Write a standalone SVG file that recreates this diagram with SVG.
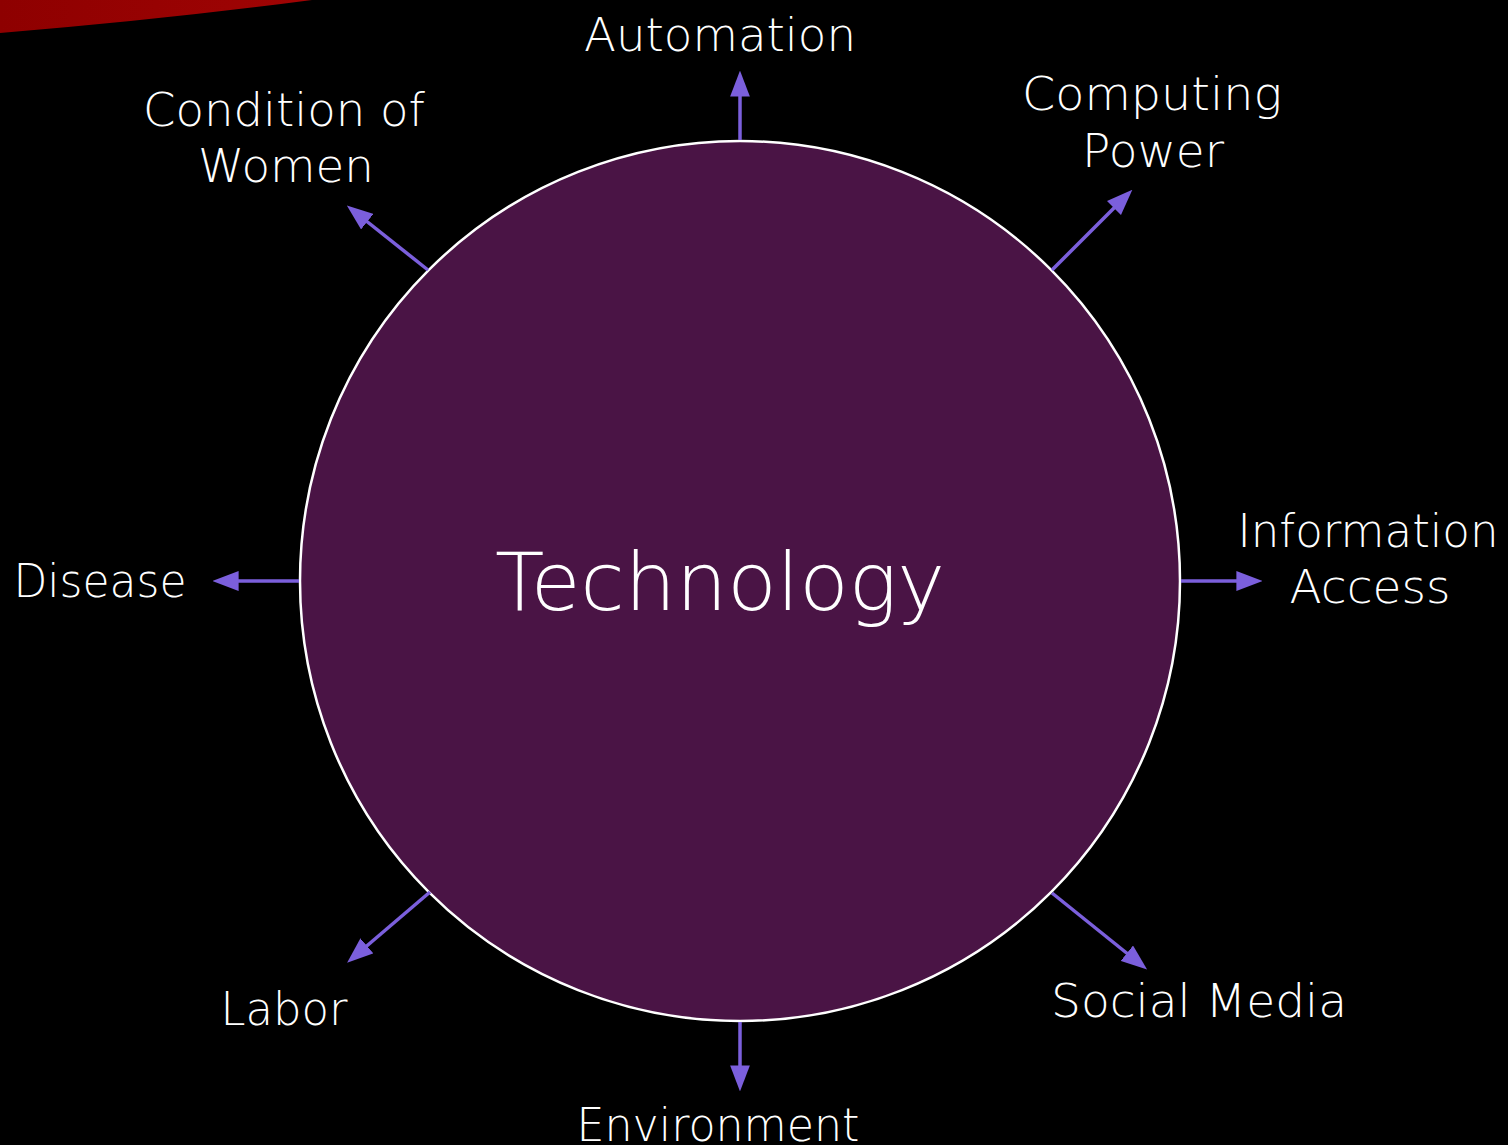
<svg xmlns="http://www.w3.org/2000/svg" width="1508" height="1145" viewBox="0 0 1508 1145">
  <defs>
    <linearGradient id="swoosh" x1="0" y1="0" x2="1" y2="0">
      <stop offset="0" stop-color="#8e0000"/>
      <stop offset="1" stop-color="#a00404"/>
    </linearGradient>
    <marker id="ah" markerUnits="userSpaceOnUse" markerWidth="26" markerHeight="20" viewBox="0 0 25 19" refX="15" refY="9.5" orient="auto">
      <path d="M0,0 L25,9.5 L0,19 Z" fill="#7b5fdc"/>
    </marker>
  </defs>
  <style>
    .lbl { font-family: "DejaVu Sans", "Liberation Sans", sans-serif; font-weight: 300; font-size: 46px; fill: #ffffff; text-anchor: middle; }
    .big { font-family: "DejaVu Sans", "Liberation Sans", sans-serif; font-weight: 300; font-size: 80px; fill: #ffffff; text-anchor: middle; }
    .conn { stroke: #7b5fdc; stroke-width: 3.5; fill: none; marker-end: url(#ah); }
  </style>
  <rect x="0" y="0" width="1508" height="1145" fill="#000000"/>
  <path d="M0,0 L312,0 Q160,20 0,33 Z" fill="url(#swoosh)"/>

  <g id="technology">
    <circle cx="740" cy="581" r="440" fill="#4a1445" stroke="#ffffff" stroke-width="2.5"/>
    <text class="big" x="720" y="610" textLength="450" lengthAdjust="spacingAndGlyphs">Technology</text>
  </g>

  <g id="connectors">
    <line class="conn" x1="740" y1="140" x2="740" y2="81"/>
    <line class="conn" x1="1052" y1="270" x2="1125" y2="197"/>
    <line class="conn" x1="1181" y1="581" x2="1252" y2="581"/>
    <line class="conn" x1="1052" y1="893" x2="1139" y2="963"/>
    <line class="conn" x1="740" y1="1022" x2="740" y2="1081"/>
    <line class="conn" x1="430" y1="892" x2="355" y2="956"/>
    <line class="conn" x1="299" y1="581" x2="223" y2="581"/>
    <line class="conn" x1="428" y1="270" x2="355" y2="212"/>
  </g>

  <g id="automation">
    <text class="lbl" x="720" y="51" textLength="272" lengthAdjust="spacingAndGlyphs">Automation</text>
  </g>
  <g id="computing-power">
    <text class="lbl" x="1152" y="110" textLength="260" lengthAdjust="spacingAndGlyphs">Computing</text>
    <text class="lbl" x="1153" y="167" textLength="142" lengthAdjust="spacingAndGlyphs">Power</text>
  </g>
  <g id="information-access">
    <text class="lbl" x="1368" y="547" textLength="261" lengthAdjust="spacingAndGlyphs">Information</text>
    <text class="lbl" x="1370" y="603" textLength="161" lengthAdjust="spacingAndGlyphs">Access</text>
  </g>
  <g id="social-media">
    <text class="lbl" x="1199" y="1017" textLength="296" lengthAdjust="spacingAndGlyphs">Social Media</text>
  </g>
  <g id="environment">
    <text class="lbl" x="718" y="1141" textLength="283" lengthAdjust="spacingAndGlyphs">Environment</text>
  </g>
  <g id="labor">
    <text class="lbl" x="284" y="1025" textLength="127" lengthAdjust="spacingAndGlyphs">Labor</text>
  </g>
  <g id="disease">
    <text class="lbl" x="100" y="597" textLength="173" lengthAdjust="spacingAndGlyphs">Disease</text>
  </g>
  <g id="condition-of-women">
    <text class="lbl" x="284" y="126" textLength="282" lengthAdjust="spacingAndGlyphs">Condition of</text>
    <text class="lbl" x="286" y="182" textLength="176" lengthAdjust="spacingAndGlyphs">Women</text>
  </g>
</svg>
